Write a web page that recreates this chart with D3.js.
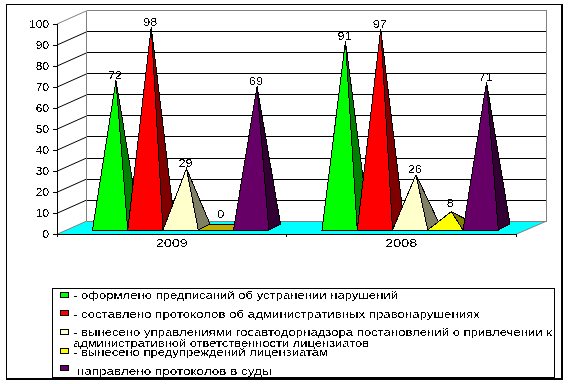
<!DOCTYPE html>
<html><head><meta charset="utf-8">
<style>html,body{margin:0;padding:0;background:#fff}svg{display:block}
text{font-family:"Liberation Sans",sans-serif;fill:#000}</style>
<script src="https://cdn.jsdelivr.net/npm/d3@7/dist/d3.min.js"></script>
</head><body><script>
const categories = ["2009", "2008"];
const issued = [72, 91];
const reports = [98, 97];
const rulings = [29, 26];
const warnings = [0, 8];
const toCourt = [69, 71];
const seriesValues = [issued, reports, rulings, warnings, toCourt];
const faceColors = ["#00ff00", "#ff0000", "#ffffcc", "#ffff00", "#660066"];
const sideColors = ["#008000", "#800000", "#808066", "#808000", "#330033"];
const floorColors = ["#008000", "#800000", "#808066", "#bdb000", "#330033"];
const yTicks = [0,10,20,30,40,50,60,70,80,90,100];
const legendLines = [
  "- оформлено предписаний об устранении нарушений",
  "- составлено протоколов об административных правонарушениях",
  "- вынесено управлениями госавтодорнадзора постановлений о привлечении к",
  "административной ответственности лицензиатов",
  "- вынесено предупреждений лицензиатам",
  "направлено протоколов в суды"
];
// layout
const W=570,H=384, X0=57,X1=516, Y0=234.3,Y100=24, DX=29.6,DY=-13.2;
const svg=d3.select("body").append("svg").attr("width",W).attr("height",H);
const defs=svg.append("defs");
const f=defs.append("filter").attr("id","crisp").attr("x",0).attr("y",0).attr("width",1).attr("height",1);
f.append("feComponentTransfer").append("feFuncA").attr("type","discrete").attr("tableValues","0 0 1 1");
const crisp={"shape-rendering":"crispEdges"};
const y=d3.scaleLinear().domain([0,100]).range([Y0,Y100]);
const apexY=d3.scaleLinear().domain([0,100]).range([228,23]);
const x=d3.scaleBand().domain(categories).range([X0,X1]);
const inner=d3.scaleBand().domain(d3.range(5)).range([0,176.3]);
const groupLeft=c=>x(c)+(x.bandwidth()-176.3)/2+8.9;
const baseY=230, pdx=11.7, pdy=-6;
const poly=(pts,fill,stroke="#000")=>svg.append("polygon").attr("points",pts.map(p=>p.join(",")).join(" ")).attr("fill",fill).attr("stroke",stroke).attr("stroke-width",1).attr("shape-rendering","crispEdges");
const line=(a,b,c,w=1,cr=true)=>svg.append("line").attr("x1",a[0]).attr("y1",a[1]).attr("x2",b[0]).attr("y2",b[1]).attr("stroke",c).attr("stroke-width",w).attr("shape-rendering",cr?"crispEdges":"auto");

// outer frame
svg.append("rect").attr("x",6.5).attr("y",4.5).attr("width",555.5).attr("height",374.5).attr("fill","#fff").attr("stroke","#000").attr("stroke-width",1.6).attr("shape-rendering","crispEdges");

// floor
poly([[X0,Y0],[X0+DX,Y0+DY],[X1+DX+1,Y0+DY],[X1,Y0]],"#00ffff","none");
line([X1,Y0],[X1+DX+1,Y0+DY],"#808080",1,false);
// walls and grid
line([X0+DX,Y0+DY],[X1+DX+1,Y0+DY],"#808080");
yTicks.forEach(v=>{
  const c=v===100?"#808080":"#000";
  line([X0,y(v)],[X0+DX,y(v)+DY],v===0?"#808080":c,1,false);
  if(v>0) line([X0+DX,y(v)+DY],[X1+DX+1,y(v)+DY],c);
});
line([X0+DX,Y100+DY],[X0+DX,Y0+DY],"#808080");
line([X1+DX+1,Y100+DY],[X1+DX+1,Y0+DY],"#808080");

// pyramids, painted left to right
categories.forEach((c,ci)=>{
  seriesValues.forEach((vals,si)=>{
    const v=vals[ci], l=groupLeft(c)+inner(si), r=l+inner.bandwidth();
    const top=[(l+r)/2+pdx/2,apexY(v)];
    poly([[l,baseY],[r,baseY],[r+pdx,baseY+pdy],[l+pdx,baseY+pdy]],floorColors[si]);
    if(v>0){
      poly([[r,baseY],[r+pdx,baseY+pdy],top],sideColors[si]);
      poly([[l,baseY],[r,baseY],top],faceColors[si]);
    }
  });
});
// front axis
line([X0,Y0],[X1,Y0],"#000");
[X0,(X0+X1)/2,X1].forEach(t=>line([t,Y0],[t,Y0+3],"#000"));
const ax=svg.append("g").attr("transform",`translate(${X0},0)`).call(d3.axisLeft(y).tickValues(yTicks).tickSize(4).tickPadding(4));
ax.selectAll("text").attr("font-size",10).attr("font-family","Liberation Sans").attr("fill","#000").attr("filter","url(#crisp)").attr("textLength",function(d){return String(d).length*6.6}).attr("lengthAdjust","spacingAndGlyphs");
ax.selectAll("line").attr("stroke","#000").attr("shape-rendering","crispEdges");
ax.select(".domain").attr("stroke","#000").attr("shape-rendering","crispEdges");
const bx=svg.append("g").attr("transform",`translate(0,${Y0})`).call(d3.axisBottom(x).tickSize(0).tickPadding(6));
bx.select(".domain").remove();
bx.selectAll("text").attr("font-size",10).attr("font-family","Liberation Sans").attr("fill","#000").attr("filter","url(#crisp)").attr("textLength",32).attr("lengthAdjust","spacingAndGlyphs");

// value labels
categories.forEach((c,ci)=>{
  seriesValues.forEach((vals,si)=>{
    const v=vals[ci], l=groupLeft(c)+inner(si), r=l+inner.bandwidth();
    const gap=v===0?14:v<10?8:5;
    svg.append("text").attr("x",(l+r)/2+pdx/2-1).attr("y",apexY(v)-gap).attr("dy","0.35em")
      .attr("text-anchor","middle").attr("font-size",10).attr("filter","url(#crisp)")
      .attr("textLength",String(v).length*7).attr("lengthAdjust","spacingAndGlyphs").text(v);
  });
});

// legend
svg.append("rect").attr("x",52.5).attr("y",288.5).attr("width",501.5).attr("height",88.5).attr("fill","#fff").attr("stroke","#000").attr("stroke-width",1).attr("shape-rendering","crispEdges");
const swatchRowY=[295,312.7,331.7,350.7,368.3];
faceColors.forEach((col,i)=>svg.append("rect").attr("x",60.5).attr("y",swatchRowY[i]-2.5).attr("width",8).attr("height",5).attr("fill",col).attr("stroke","#000").attr("shape-rendering","crispEdges"));
const textRowY=[295.7,314,332.7,343.3,352.7,371];
const textLeft=[73,73,73,73,73,76.7];
const textRight=[398,480,552,369,328,271.7];
legendLines.forEach((t,i)=>svg.append("text").attr("x",textLeft[i]).attr("y",textRowY[i]).attr("dy","0.35em")
  .attr("font-size",10.5).attr("filter","url(#crisp)").attr("textLength",textRight[i]-textLeft[i]).attr("lengthAdjust","spacingAndGlyphs").text(t));
</script></body></html>
